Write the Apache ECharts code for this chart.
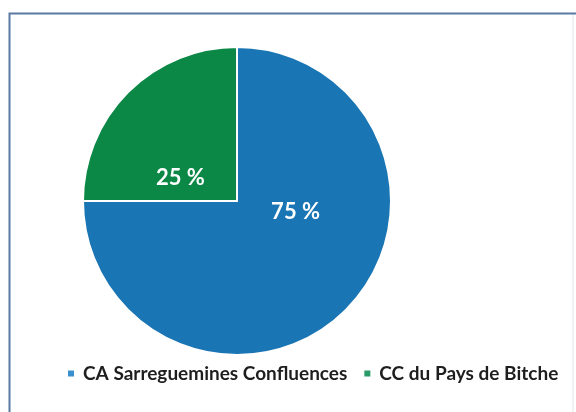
<!DOCTYPE html>
<html style="height: 100%">

<head>
    <meta charset="utf-8">
    <title>Répartition CA Sarreguemines / CC du Pays de Bitche</title>
    <script type="text/javascript" src="https://cdn.jsdelivr.net/npm/echarts@6/dist/echarts.min.js"></script>
</head>

<body style="height: 100%; margin: 0; background: #fff">
    <div id="container" style="width: 576px; height: 412px"></div>

    <script type="text/javascript">
        // données
        var categories = ['CA Sarreguemines Confluences', 'CC du Pays de Bitche'];
        var values = [75, 25];
        var colors = ['#1a75b4', '#0b8746'];
        var legendColors = ['#3a8fcc', '#2a9a68'];

        var dom = document.getElementById("container");
        var myChart = echarts.init(dom);

        var pieData = [];
        for (var i = 0; i < categories.length; i++) {
            pieData.push({
                name: categories[i],
                value: values[i],
                itemStyle: { color: colors[i] }
            });
        }

        var option = {
            animation: false,
            // cadre autour du graphique
            graphic: [
                {
                    type: 'polyline',
                    shape: { points: [[573, 13], [573, 412]] },
                    style: { stroke: '#dfe4ea', lineWidth: 1, fill: null }
                },
                {
                    type: 'polyline',
                    shape: { points: [[9.5, 412], [9.5, 13.5], [576, 13.5]] },
                    style: { stroke: '#5b7aa2', lineWidth: 2, fill: null }
                }
            ],
            legend: {
                left: 61,
                top: 359,
                itemWidth: 8,
                itemHeight: 8,
                itemGap: 15,
                icon: 'rect',
                data: [
                    { name: categories[0], itemStyle: { color: legendColors[0] } },
                    { name: categories[1], itemStyle: { color: legendColors[1] } }
                ],
                textStyle: {
                    fontFamily: 'Lato',
                    fontWeight: 'bold',
                    fontSize: 19,
                    color: '#1e1e1e',
                    padding: [0, 0, 0, 3]
                }
            },
            series: [
                {
                    type: 'pie',
                    center: [237, 201],
                    radius: 154,
                    startAngle: 90,
                    clockwise: true,
                    data: pieData,
                    itemStyle: {
                        borderColor: '#fff',
                        borderWidth: 2
                    },
                    label: {
                        show: true,
                        position: 'inside',
                        formatter: '{c} %',
                        color: '#fff',
                        fontFamily: 'Lato',
                        fontWeight: 'bold',
                        fontSize: 22
                    },
                    labelLine: { show: false },
                    // décalage des étiquettes comme dans l'original
                    labelLayout: function (params) {
                        if (params.dataIndex === 0) {
                            return { dx: 2, dy: -46 };
                        }
                        return { dx: 0, dy: 33 };
                    },
                    emphasis: { disabled: true }
                }
            ]
        };

        myChart.setOption(option, true);
    </script>
</body>

</html>
